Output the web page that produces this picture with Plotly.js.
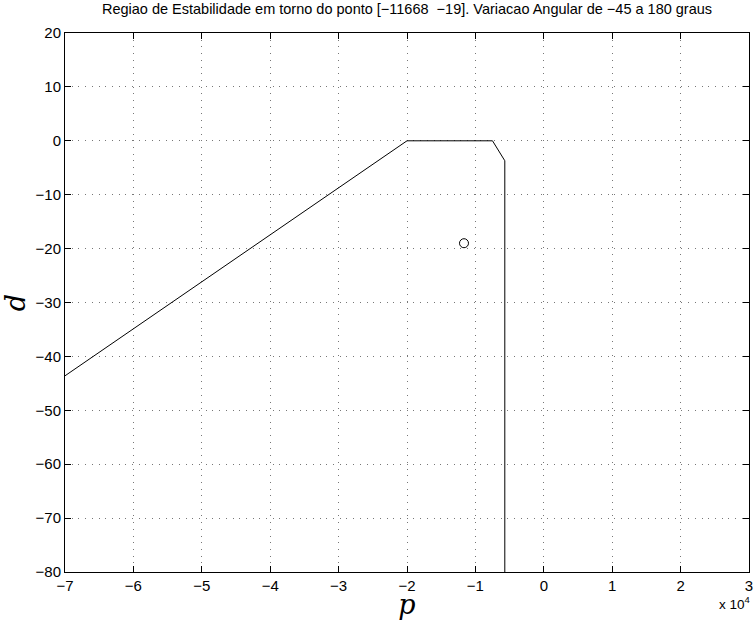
<!DOCTYPE html>
<html>
<head>
<meta charset="utf-8">
<script src="https://cdn.plot.ly/plotly-3.0.1.min.js"></script>
<style>html,body{margin:0;padding:0;background:#fff}</style>
</head>
<body>
<div id="chart" style="width:754px;height:620px"></div>
<script>
// Stability region boundary (p, d)
const boundaryP = [-70000, -20000, -7500, -5700, -5700];
const boundaryD = [-43.6, 0, 0, -3.7, -80];
// Operating point
const pointP = [-11668];
const pointD = [-19];
// Tick labels
const xTickVals = [-70000, -60000, -50000, -40000, -30000, -20000, -10000, 0, 10000, 20000, 30000];
const xTickText = ['\u22127', '\u22126', '\u22125', '\u22124', '\u22123', '\u22122', '\u22121', '0', '1', '2', '3'];
const yTickVals = [20, 10, 0, -10, -20, -30, -40, -50, -60, -70, -80];
const yTickText = ['20', '10', '0', '\u221210', '\u221220', '\u221230', '\u221240', '\u221250', '\u221260', '\u221270', '\u221280'];

const traces = [
  {x: boundaryP, y: boundaryD, mode: 'lines', line: {color: '#000', width: 1}, hoverinfo: 'skip'},
  {x: pointP, y: pointD, mode: 'markers', marker: {symbol: 'circle-open', size: 9, color: '#000', line: {width: 1, color: '#000'}}}
];

const axisCommon = {
  showline: true, linecolor: '#000', linewidth: 1, mirror: 'ticks',
  ticks: 'inside', ticklen: 6, tickcolor: '#000', tickwidth: 1,
  showgrid: true, gridcolor: '#777', griddash: '1px,5.7px', gridwidth: 1,
  zeroline: false, tickfont: {family: 'Liberation Sans, Arial, sans-serif', size: 15, color: '#000'}
};

const layout = {
  width: 754, height: 620,
  margin: {l: 65, r: 5, t: 33, b: 48},
  paper_bgcolor: '#fff', plot_bgcolor: '#fff',
  showlegend: false,
  title: {text: 'Regiao de Estabilidade em torno do ponto [\u221211668  \u221219]. Variacao Angular de \u221245 a 180 graus',
          font: {family: 'Liberation Sans, Arial, sans-serif', size: 14.5, color: '#000'},
          x: 0.5, xref: 'paper', y: 0.993, yref: 'container', yanchor: 'top'},
  xaxis: Object.assign({}, axisCommon, {
    range: [-70000, 30000], tickmode: 'array', tickvals: xTickVals, ticktext: xTickText,
    title: {text: 'p', font: {family: 'DejaVu Serif, serif', size: 27, color: '#000', style: 'italic'}, standoff: 0}
  }),
  yaxis: Object.assign({}, axisCommon, {
    range: [-80, 20], tickmode: 'array', tickvals: yTickVals, ticktext: yTickText,
    title: {text: 'd', font: {family: 'DejaVu Serif, serif', size: 27, color: '#000', style: 'italic'}, standoff: 2}
  }),
  annotations: [
    {text: 'x 10<sup>4</sup>', xref: 'paper', yref: 'paper', x: 1, y: 0, yshift: -31, xshift: 3, xanchor: 'right', yanchor: 'middle',
     showarrow: false, font: {family: 'Liberation Sans, Arial, sans-serif', size: 13.5, color: '#000'}}
  ]
};

Plotly.newPlot('chart', traces, layout, {displayModeBar: false, staticPlot: true});
</script>
</body>
</html>
